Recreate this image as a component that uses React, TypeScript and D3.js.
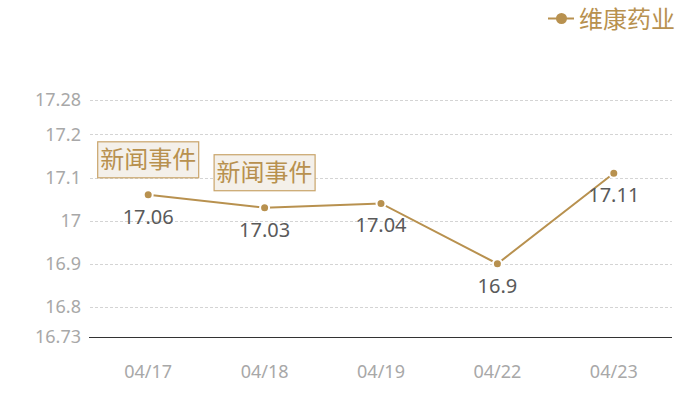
import { useEffect, useRef } from "react"
import * as d3 from "d3"

const dates = ["04/17", "04/18", "04/19", "04/22", "04/23"]
const prices = [17.06, 17.03, 17.04, 16.9, 17.11]
const yTicks = [16.73, 16.8, 16.9, 17, 17.1, 17.2, 17.28]
const events = ["04/17", "04/18"]
const seriesName = "维康药业"
const eventText = "新闻事件"

const W = 700
const H = 400
const GOLD = "#b8914f"
const NUM_FONT = "'Noto Sans', sans-serif"
const CJK_FONT = "'Noto Sans CJK SC', sans-serif"

export default function App() {
  const svgRef = useRef<SVGSVGElement>(null)

  useEffect(() => {
    const svg = d3.select(svgRef.current!)
    svg.selectAll("*").remove()

    const left = 90
    const right = 672
    const top = 100
    const bottom = 337

    const x = d3.scaleBand<string>().domain(dates).range([left, right])
    const y = d3.scaleLinear().domain([16.73, 17.28]).range([bottom, top])
    const cx = (d: string) => (x(d) ?? 0) + x.bandwidth() / 2

    // grid lines (dashed), skip bottom one which is the axis
    svg
      .append("g")
      .selectAll("line")
      .data(yTicks.filter((t) => t !== 16.73))
      .enter()
      .append("line")
      .attr("x1", left)
      .attr("x2", right)
      .attr("y1", (d) => Math.round(y(d)) + 0.5)
      .attr("y2", (d) => Math.round(y(d)) + 0.5)
      .attr("stroke", "#d4d4d4")
      .attr("stroke-dasharray", "3,2")

    // y tick labels
    svg
      .append("g")
      .selectAll("text")
      .data(yTicks)
      .enter()
      .append("text")
      .attr("x", 81)
      .attr("y", (d) => y(d))
      .attr("dy", "0.35em")
      .attr("text-anchor", "end")
      .attr("font-size", 18)
      .attr("font-family", NUM_FONT)
      .attr("fill", "#a8a8a8")
      .text((d) => String(d))

    // x axis line
    svg
      .append("line")
      .attr("x1", left - 1)
      .attr("x2", right)
      .attr("y1", bottom + 0.5)
      .attr("y2", bottom + 0.5)
      .attr("stroke", "#333")
      .attr("stroke-width", 1)

    // x labels
    svg
      .append("g")
      .selectAll("text")
      .data(dates)
      .enter()
      .append("text")
      .attr("x", (d) => cx(d))
      .attr("y", 372)
      .attr("dy", "0.35em")
      .attr("text-anchor", "middle")
      .attr("font-size", 18)
      .attr("font-family", NUM_FONT)
      .attr("fill", "#a8a8a8")
      .text((d) => d)

    const pts = dates.map((d, i) => ({ d, v: prices[i] }))

    // line
    const line = d3
      .line<{ d: string; v: number }>()
      .x((p) => cx(p.d))
      .y((p) => y(p.v))
    svg
      .append("path")
      .attr("d", line(pts))
      .attr("fill", "none")
      .attr("stroke", GOLD)
      .attr("stroke-width", 2)

    // points
    svg
      .append("g")
      .selectAll("circle")
      .data(pts)
      .enter()
      .append("circle")
      .attr("cx", (p) => cx(p.d))
      .attr("cy", (p) => y(p.v))
      .attr("r", 4.5)
      .attr("fill", GOLD)
      .attr("stroke", "#fff")
      .attr("stroke-width", 2)

    // value labels
    svg
      .append("g")
      .selectAll("text")
      .data(pts)
      .enter()
      .append("text")
      .attr("x", (p) => cx(p.d))
      .attr("y", (p) => y(p.v) + 22)
      .attr("dy", "0.35em")
      .attr("text-anchor", "middle")
      .attr("font-size", 20)
      .attr("font-family", NUM_FONT)
      .attr("fill", "#5a5a5a")
      .text((p) => String(p.v))

    // event boxes
    const evG = svg.append("g")
    events.forEach((e) => {
      const v = prices[dates.indexOf(e)]
      const bx = cx(e)
      const by = y(v) - 17
      const bw = 101
      const bh = 36
      evG
        .append("rect")
        .attr("x", bx - bw / 2)
        .attr("y", by - bh)
        .attr("width", bw)
        .attr("height", bh)
        .attr("fill", "#f4f0ea")
        .attr("stroke", "#c9a46a")
        .attr("stroke-width", 1.2)
      evG
        .append("text")
        .attr("x", bx)
        .attr("y", by - bh / 2)
        .attr("dy", "0.36em")
        .attr("text-anchor", "middle")
        .attr("font-size", 24)
        .attr("font-family", CJK_FONT)
        .attr("fill", GOLD)
        .text(eventText)
    })

    // legend
    const lg = svg.append("g")
    lg.append("line")
      .attr("x1", 548)
      .attr("x2", 574)
      .attr("y1", 18.5)
      .attr("y2", 18.5)
      .attr("stroke", GOLD)
      .attr("stroke-width", 2)
    lg.append("circle").attr("cx", 561.5).attr("cy", 18.5).attr("r", 5.5).attr("fill", GOLD)
    lg.append("text")
      .attr("x", 579)
      .attr("y", 19)
      .attr("dy", "0.36em")
      .attr("font-size", 24)
      .attr("font-family", CJK_FONT)
      .attr("fill", GOLD)
      .text(seriesName)
  }, [])

  return (
    <svg
      ref={svgRef}
      width={W}
      height={H}
      style={{ position: "absolute", left: 0, top: 0, background: "#fff" }}
    />
  )
}
